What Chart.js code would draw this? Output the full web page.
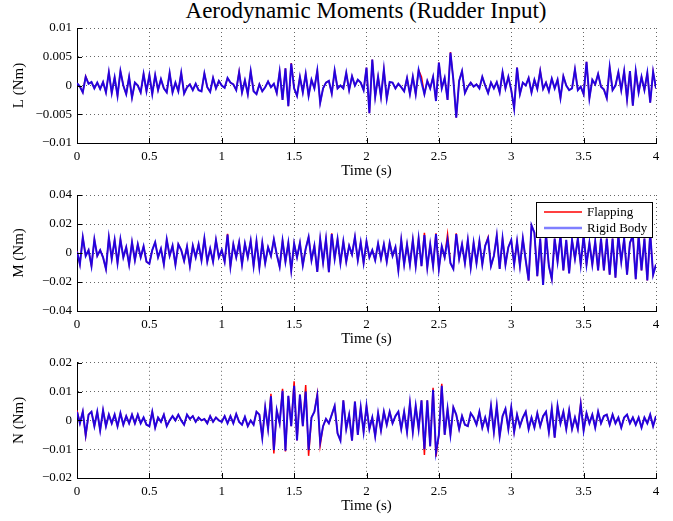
<!DOCTYPE html>
<html>
<head>
<meta charset="utf-8">
<script src="https://cdn.jsdelivr.net/npm/chart.js@4.4.1/dist/chart.umd.min.js"></script>
<style>
  html, body { margin: 0; padding: 0; background: #fff; width: 673px; height: 521px; overflow: hidden; }
  #title {
    position: absolute; left: 66px; width: 600px; top: -1px;
    text-align: center; font-family: "Liberation Serif", "Times New Roman", serif;
    font-size: 23px; line-height: 24px; color: #000;
  }
  canvas { position: absolute; left: 0; }
</style>
</head>
<body>
<div id="title">Aerodynamic Moments (Rudder Input)</div>
<canvas id="chartL" width="673" height="185" style="top:0px"></canvas>
<canvas id="chartM" width="673" height="173" style="top:180px"></canvas>
<canvas id="chartN" width="673" height="170" style="top:350px"></canvas>
<script>
// samples every 0.02 s from 0 to 4 s, values in milli-Nm
const sampleStep = 0.02;

const timeTicks = [0, 0.5, 1, 1.5, 2, 2.5, 3, 3.5, 4];
const timeTickLabels = ['0', '0.5', '1', '1.5', '2', '2.5', '3', '3.5', '4'];

const yTicksL = [-0.01, -0.005, 0, 0.005, 0.01];
const yTickLabelsL = ['\u22120.01', '\u22120.005', '0', '0.005', '0.01'];
const yTicksM = [-0.04, -0.02, 0, 0.02, 0.04];
const yTickLabelsM = ['\u22120.04', '\u22120.02', '0', '0.02', '0.04'];
const yTicksN = [-0.02, -0.01, 0, 0.01, 0.02];
const yTickLabelsN = ['\u22120.02', '\u22120.01', '0', '0.01', '0.02'];

// L moment (mNm)
const rollRigid = [
  0.4, -0.2, -1.2, 1.5, 0.3, 0.6, -0.5, 0.5, -0.6, 0.6, -1.2, 2.3, -1.3, 1.4, -1.8, 2.5, 0.0, -1.5, 1.5, -2.1, 0.5, 0.0, -1.2, 2.0, -1.0,
  1.8, -1.5, 1.8, -0.8, 1.1, -0.5, -1.2, 2.2, -1.2, 0.5, -1.0, 2.2, -1.4, -0.3, 0.2, -0.8, 0.3, -0.8, -1.0, 2.1, -0.3, -1.1, 1.3, -0.5, 0.8,
  0.0, -0.4, 1.3, 0.5, 0.2, -0.8, 2.3, -1.2, 0.9, -1.5, 2.5, -1.0, -1.5, 0.2, -1.0, -0.3, 0.7, -0.3, 0.3, -1.3, 2.4, -2.5, 3.0, -3.6, 3.8,
  -0.5, -1.8, 1.5, -1.2, 2.0, -1.8, 1.0, -0.5, 2.6, -3.0, -0.5, 0.5, 0.8, -1.4, 2.6, -0.5, 0.0, -0.5, 2.2, -0.8, 1.6, 0.0, 1.0, 0.5, -0.8,
  3.1, -4.8, 4.5, -2.0, 1.5, -2.0, 2.8, -2.3, 0.6, 0.5, -0.5, 0.3, -0.3, -1.0, 1.3, -1.5, 1.5, -1.5, 2.7, 0.5, -1.5, 0.8, -0.5, 1.5, -2.7,
  4.0, -0.5, 1.3, -2.5, 5.7, 1.0, -5.6, 0.8, 2.5, -1.3, -0.2, 0.5, -0.2, 0.2, -0.5, 1.5, 0.0, -1.3, 0.5, -0.5, 0.6, -1.2, 2.3, -0.5, 1.5,
  -0.8, -4.0, 3.1, -1.5, 0.5, 0.0, 1.3, -1.2, 1.0, -0.6, 2.5, -0.6, 0.5, -1.0, 1.2, -0.5, 1.0, -2.2, 1.6, 0.0, -0.8, -0.5, 2.8, -0.8, -0.2,
  -1.5, 4.1, -2.2, 1.0, 0.2, 2.0, -0.2, -0.7, -2.2, 3.2, -0.8, 0.0, 2.3, -0.8, 2.5, -2.4, 2.5, -3.5, 2.5, -1.2, 1.5, -0.8, 2.2, -3.0, 2.4,
  -0.5
];
const rollFlapping = [
  0.4, -0.2, -1.2, 1.6, 0.3, 0.6, -0.5, 0.5, -0.6, 0.6, -1.2, 2.3, -1.3, 1.4, -1.8, 2.5, 0.0, -1.5, 1.5, -2.1, 0.5, 0.0, -1.2, 2.0, -1.0,
  1.8, -1.5, 1.8, -0.8, 1.1, -0.5, -1.2, 2.2, -1.2, 0.5, -1.0, 2.2, -1.4, -0.3, 0.2, -0.8, 0.3, -0.8, -1.0, 2.1, -0.3, -1.1, 1.3, -0.5, 0.8,
  0.0, -0.4, 1.3, 0.5, 0.2, -0.8, 2.4, -1.2, 0.9, -1.5, 2.5, -1.0, -1.5, 0.2, -1.0, -0.3, 0.7, -0.3, 0.3, -1.3, 2.4, -2.5, 3.0, -3.6, 3.9,
  -0.5, -1.8, 1.5, -1.2, 2.0, -1.8, 1.0, -0.5, 2.6, -3.0, -0.5, 0.5, 0.8, -1.4, 2.6, -0.5, 0.0, -0.5, 2.2, -0.8, 1.6, 0.0, 1.0, 0.5, -0.8,
  3.1, -4.8, 4.5, -2.0, 1.5, -2.0, 2.8, -2.3, 0.6, 0.5, -0.5, 0.3, -0.3, -1.0, 1.3, -1.5, 1.5, -1.5, 2.7, 1.5, -1.5, 0.8, -0.5, 1.5, -2.7,
  4.0, -0.5, 1.3, -2.5, 5.8, 1.0, -5.6, 0.8, 2.5, -1.3, -0.2, 0.5, -0.2, 0.2, -0.5, 1.5, 0.0, -1.3, 0.5, -0.5, 0.6, -1.2, 2.3, -0.5, 1.5,
  -0.8, -4.0, 3.1, -1.5, 0.5, 0.0, 1.3, -1.2, 1.0, -0.6, 2.6, -0.6, 0.5, -1.0, 1.2, -0.5, 1.0, -2.2, 1.6, 0.0, -0.8, -0.5, 2.8, -0.8, -0.2,
  -1.5, 4.1, -2.2, 1.0, 0.2, 2.0, -0.2, -0.7, -2.2, 3.2, -0.8, 0.0, 2.3, -0.8, 2.5, -2.4, 2.5, -3.5, 2.5, -1.2, 1.5, -0.8, 2.2, -3.0, 2.4,
  -0.5
];

// M moment (mNm)
const pitchRigid = [
  1.0, -7.8, 10.8, -2.0, 2.0, -9.0, 9.4, -2.0, 2.0, -3.0, -11.0, 10.8, -4.0, 9.0, -7.0, 9.4, -3.0, 4.0, -8.0, 7.4, -5.0, 6.0, -3.0, 4.6, -6.0,
  -7.4, 2.0, 7.4, -3.0, 3.0, -7.8, 9.4, -2.0, 5.0, -8.0, 6.0, 2.0, -5.5, 4.4, -9.0, 5.0, -3.0, 6.0, -5.0, 10.0, -6.0, 3.0, -6.0, 9.0, -3.0,
  2.0, -6.0, 12.7, -9.4, 6.0, -3.0, 7.4, -8.0, 6.5, -3.0, 8.5, -9.0, 8.0, -10.0, 7.0, -7.0, 4.0, -2.0, 9.4, -1.0, -9.5, 8.5, -6.0, 7.0, -12.0,
  6.5, -3.0, 7.0, -8.5, 3.0, 11.0, -5.0, 5.0, -13.0, 9.6, -6.5, 9.6, -13.3, 13.0, -4.0, 9.6, -7.0, 8.0, -6.0, 5.0, -1.0, 11.0, -5.0, 7.4, -7.0,
  8.0, -3.0, 2.0, -5.0, 6.5, -4.0, 6.0, -6.0, 7.0, -2.0, 4.0, -12.0, 9.0, -8.0, 6.0, -8.0, 9.0, -9.0, 10.0, -9.0, 12.4, -10.0, 6.0, -9.0, 13.0,
  -11.0, 4.5, -3.0, 9.0, -7.0, -11.0, 13.0, -4.0, 6.0, -7.0, 9.0, -10.0, 7.0, -7.0, 8.0, -8.0, 5.0, 10.0, -9.0, -2.0, 12.0, -11.0, 10.0, -8.0, 4.0,
  9.0, -8.0, 8.0, -9.0, 10.0, -5.0, -19.0, 19.0, 14.0, -16.0, 10.0, -22.0, 13.0, -9.0, -18.0, 10.0, -6.0, 12.0, -12.0, 9.0, -14.0, 9.0, -4.0, 10.0, -8.0,
  12.0, -8.0, 7.0, -8.0, 8.0, -12.0, 10.0, -12.0, 10.0, -15.0, 10.0, -17.0, 12.0, -6.0, 10.0, -15.0, 7.0, 12.0, -18.0, 12.0, -12.0, 10.0, -19.0, 14.0, -15.0,
  -8.0
];
const pitchFlapping = [
  1.5, -7.8, 10.8, -2.0, 2.0, -9.0, 9.4, -2.0, 2.0, -3.0, -11.0, 10.8, -4.0, 9.0, -7.0, 9.4, -3.0, 4.0, -8.0, 7.4, -5.0, 6.0, -3.0, 4.6, -6.0,
  -7.4, 2.0, 7.4, -3.0, 3.0, -7.8, 9.4, -2.0, 5.0, -8.0, 6.0, 2.0, -5.5, 4.4, -9.0, 5.0, -3.0, 6.0, -5.0, 10.0, -6.0, 3.0, -6.0, 9.0, -3.0,
  2.0, -6.0, 13.2, -9.4, 6.0, -3.0, 7.4, -8.0, 6.5, -3.0, 8.5, -9.0, 8.0, -10.0, 7.0, -7.0, 4.0, -2.0, 9.4, -1.0, -9.5, 8.5, -6.0, 7.0, -12.0,
  6.5, -3.0, 7.0, -8.5, 3.0, 11.0, -5.0, 5.0, -13.0, 9.6, -6.5, 9.6, -13.3, 13.5, -4.0, 9.6, -7.0, 8.0, -6.0, 5.0, -1.0, 11.0, -5.0, 7.4, -7.0,
  8.0, -3.0, 2.0, -5.0, 6.5, -4.0, 6.0, -6.0, 7.0, -2.0, 4.0, -12.0, 9.0, -8.0, 6.0, -8.0, 9.0, -9.0, 10.0, -9.0, 14.0, -10.0, 6.0, -9.0, 13.5,
  -11.0, 4.5, -3.0, 13.0, -7.0, -11.0, 13.5, -4.0, 6.0, -7.0, 9.0, -10.0, 7.0, -7.0, 8.0, -8.0, 5.0, 10.8, -9.0, -2.0, 12.0, -11.0, 10.0, -8.0, 4.0,
  9.0, -8.0, 8.0, -9.0, 10.0, -5.0, -19.0, 19.0, 14.0, -16.0, 10.0, -22.0, 13.0, -9.0, -18.0, 10.0, -6.0, 12.0, -12.0, 9.0, -14.0, 9.0, -4.0, 10.0, -8.0,
  12.0, -8.0, 7.0, -8.0, 8.0, -12.0, 10.0, -12.0, 10.0, -15.0, 10.0, -17.0, 12.0, -6.0, 10.0, -15.0, 7.0, 12.0, -18.0, 12.0, -12.0, 10.0, -19.0, 14.0, -15.0,
  -8.0
];

// N moment (mNm)
const yawRigid = [
  3.0, -1.0, 3.0, -5.0, 2.0, 3.0, -2.0, 3.0, -3.5, 3.5, -2.0, 2.0, -1.0, 2.0, -2.0, 2.5, -1.5, 1.5, -1.0, 2.0, -1.0, 2.0, -1.0, 1.0, -1.5,
  -2.0, 3.0, -2.5, 1.0, -0.5, 2.0, -2.0, 0.0, 1.5, 0.0, 2.0, 0.0, -1.5, 2.0, 0.5, 1.5, -0.5, 1.0, 0.0, 0.5, -1.0, 1.5, -0.5, 1.0, 0.0,
  -0.5, 1.5, -1.0, 1.5, -1.0, 2.2, -0.5, -1.5, 1.2, -2.0, 0.0, -1.5, 3.0, 2.0, -6.0, 4.5, -3.0, 8.4, -10.3, 3.5, -1.0, 10.3, -10.5, 8.5, -2.0,
  12.0, -7.0, 9.0, -2.0, 10.0, -10.3, 1.0, 3.0, 8.6, -7.5, -2.0, 0.5, -1.0, 2.0, 5.0, -4.5, -7.0, 7.0, -3.0, 2.0, -7.0, 6.5, -5.0, 4.5, -4.0,
  5.0, -3.0, 1.0, -5.5, 2.5, -3.5, 3.0, -1.5, 3.0, -1.0, 1.5, 3.0, -3.0, 3.0, -4.0, 6.0, -4.0, 5.0, -3.0, 7.0, -10.0, 7.0, -9.0, 10.6, -11.0,
  -5.0, 12.0, -5.0, 4.0, -5.0, 4.5, 2.0, -3.0, 1.5, -1.5, -2.0, 2.5, 1.0, -1.5, 3.0, -2.5, 1.0, -3.0, 5.0, -4.0, 5.0, -5.5, 1.5, 4.0, -3.0,
  4.5, -4.0, 2.0, -2.0, 1.0, 3.0, -3.0, 1.0, -2.5, 2.5, -2.0, 1.5, 3.0, -4.0, 4.0, -6.0, 5.0, -1.0, 3.0, -3.0, 3.5, -3.0, 1.0, -3.0, 5.5,
  -3.5, 2.5, -1.0, 2.0, -2.5, 3.0, -1.0, 1.5, 2.0, -1.5, 2.0, -1.0, 1.0, -2.5, 1.0, 2.0, -1.0, 1.0, -1.5, 1.0, -2.5, 1.0, -1.0, 2.0, -2.0,
  1.5
];
const yawFlapping = [
  3.5, -1.0, 3.0, -5.5, 2.0, 3.0, -2.0, 3.0, -3.5, 3.5, -2.0, 2.0, -1.0, 2.0, -2.0, 2.5, -1.5, 1.5, -1.0, 2.0, -1.0, 2.0, -1.0, 1.0, -1.5,
  -2.0, 3.0, -2.5, 1.0, -0.5, 2.0, -2.0, 0.0, 1.5, 0.0, 2.0, 0.0, -1.5, 2.0, 0.5, 1.5, -0.5, 1.0, 0.0, 0.5, -1.0, 1.5, -0.5, 1.0, 0.0,
  -0.5, 1.5, -1.0, 1.5, -1.0, 2.2, -0.5, -1.5, 1.2, -2.0, 0.0, -1.5, 3.0, 2.0, -6.0, 4.5, -3.0, 9.2, -11.5, 3.5, -1.0, 11.0, -10.8, 8.5, -2.0,
  13.6, -7.0, 9.0, -2.0, 12.3, -12.3, 1.0, 3.0, 9.2, -8.7, -2.0, 0.5, -1.0, 2.0, 5.0, -4.5, -7.0, 7.0, -3.0, 2.0, -7.0, 6.5, -5.0, 4.5, -4.0,
  5.0, -3.0, 1.0, -5.5, 2.5, -3.5, 3.0, -1.5, 3.0, -1.0, 1.5, 3.0, -3.0, 3.0, -4.0, 6.0, -4.0, 5.0, -3.0, 7.0, -12.0, 7.0, -9.0, 11.3, -12.6,
  -5.0, 12.7, -5.0, 4.0, -5.0, 4.5, 2.0, -3.0, 1.5, -1.5, -2.0, 2.5, 1.0, -1.5, 3.0, -2.5, 1.0, -3.0, 5.0, -4.0, 5.0, -5.5, 1.5, 4.0, -3.0,
  4.5, -4.0, 2.0, -2.0, 1.0, 3.0, -3.0, 1.0, -2.5, 2.5, -2.0, 1.5, 3.0, -4.0, 4.0, -6.0, 5.0, -1.0, 3.0, -3.0, 3.5, -3.0, 1.0, -3.0, 6.0,
  -3.5, 2.5, -1.0, 2.0, -2.5, 3.0, -1.0, 1.5, 2.0, -1.5, 2.0, -1.0, 1.0, -2.5, 1.0, 2.0, -1.0, 1.0, -1.5, 1.0, -2.5, 1.0, -1.0, 2.0, -2.0,
  1.5
];

const SERIF = '"Liberation Serif", "Times New Roman", serif';
const FLAP_COLOR = '#ff0000';
const RIGID_COLOR = 'rgba(0, 0, 255, 0.85)';

// mNm -> Nm, sample index -> time
function toPoints(values) {
  return values.map((v, i) => ({ x: i * sampleStep, y: v / 1000 }));
}

// MATLAB style ticks pointing into the plot box
const inwardTicks = {
  id: 'inwardTicks',
  afterDraw(chart) {
    const { ctx, chartArea, scales } = chart;
    ctx.save();
    ctx.strokeStyle = '#000';
    ctx.lineWidth = 1;
    ctx.beginPath();
    scales.x.ticks.forEach(t => {
      const px = Math.round(scales.x.getPixelForValue(t.value)) + 0.5;
      ctx.moveTo(px, chartArea.bottom);
      ctx.lineTo(px, chartArea.bottom - 5);
    });
    scales.y.ticks.forEach(t => {
      const py = Math.round(scales.y.getPixelForValue(t.value)) + 0.5;
      ctx.moveTo(chartArea.left, py);
      ctx.lineTo(chartArea.left + 5, py);
    });
    ctx.stroke();
    ctx.restore();
  }
};

// boxed legend in the top right corner of the middle plot
const boxLegend = {
  id: 'boxLegend',
  afterDraw(chart) {
    const ctx = chart.ctx;
    const area = chart.chartArea;
    const w = 116, h = 35;
    const x0 = area.right - w - 4, y0 = area.top + 7;
    ctx.save();
    ctx.fillStyle = '#fff';
    ctx.fillRect(x0, y0, w, h);
    ctx.strokeStyle = '#000';
    ctx.lineWidth = 1;
    ctx.strokeRect(x0 + 0.5, y0 + 0.5, w, h);

    const entries = [
      { label: chart.data.datasets[1].label, color: FLAP_COLOR, width: 1.5 },
      { label: chart.data.datasets[0].label, color: 'rgba(0, 0, 255, 0.5)', width: 2.5 }
    ];
    ctx.font = '13px ' + SERIF;
    ctx.textBaseline = 'middle';
    entries.forEach((e, i) => {
      const y = y0 + 10 + i * 16;
      ctx.strokeStyle = e.color;
      ctx.lineWidth = e.width;
      ctx.beginPath();
      ctx.moveTo(x0 + 8, y);
      ctx.lineTo(x0 + 46, y);
      ctx.stroke();
      ctx.fillStyle = '#000';
      ctx.fillText(e.label, x0 + 51, y + 0.5);
    });
    ctx.restore();
  }
};

function makePanel(canvasId, padTop, rigid, flapping, yMin, yMax, yTicks, yLabels, yTitle, extraPlugins) {
  const ctx = document.getElementById(canvasId).getContext('2d');
  return new Chart(ctx, {
    type: 'line',
    data: {
      datasets: [
        {
          label: 'Rigid Body',
          data: toPoints(rigid),
          borderColor: RIGID_COLOR,
          borderWidth: 2,
          pointRadius: 0,
          tension: 0,
          order: 0
        },
        {
          label: 'Flapping',
          data: toPoints(flapping),
          borderColor: FLAP_COLOR,
          borderWidth: 1.5,
          pointRadius: 0,
          tension: 0,
          order: 1
        }
      ]
    },
    options: {
      responsive: false,
      animation: false,
      devicePixelRatio: 1,
      layout: { padding: { top: padTop, right: 17, left: 0, bottom: 0 } },
      plugins: {
        legend: { display: false },
        tooltip: { enabled: false }
      },
      scales: {
        x: {
          type: 'linear',
          min: 0,
          max: 4,
          afterBuildTicks: s => { s.ticks = timeTicks.map(v => ({ value: v })); },
          afterFit: s => { s.height = 42; },
          ticks: {
            padding: 6,
            color: '#000',
            maxRotation: 0,
            autoSkip: false,
            font: { family: SERIF, size: 13 },
            callback: (v, i) => timeTickLabels[i]
          },
          grid: { color: 'rgba(0, 0, 0, 0.6)', lineWidth: 1, drawTicks: false },
          border: { display: true, color: '#000', width: 1, dash: [1, 3] },
          title: {
            display: true,
            text: 'Time (s)',
            color: '#000',
            font: { family: SERIF, size: 15 },
            padding: { top: 0, bottom: 5 }
          }
        },
        y: {
          type: 'linear',
          min: yMin,
          max: yMax,
          afterBuildTicks: s => { s.ticks = yTicks.map(v => ({ value: v })); },
          afterFit: s => { s.width = 77; },
          ticks: {
            padding: 5,
            color: '#000',
            autoSkip: false,
            font: { family: SERIF, size: 13 },
            callback: (v, i) => yLabels[i]
          },
          grid: { color: 'rgba(0, 0, 0, 0.6)', lineWidth: 1, drawTicks: false },
          border: { display: true, color: '#000', width: 1, dash: [1, 3] },
          title: {
            display: true,
            text: yTitle,
            color: '#000',
            font: { family: SERIF, size: 15 },
            padding: { top: 10, bottom: 0 }
          }
        }
      }
    },
    plugins: [inwardTicks].concat(extraPlugins || [])
  });
}

makePanel('chartL', 28, rollRigid, rollFlapping, -0.01, 0.01, yTicksL, yTickLabelsL, 'L (Nm)');
makePanel('chartM', 15, pitchRigid, pitchFlapping, -0.04, 0.04, yTicksM, yTickLabelsM, 'M (Nm)', [boxLegend]);
makePanel('chartN', 12, yawRigid, yawFlapping, -0.02, 0.02, yTicksN, yTickLabelsN, 'N (Nm)');
</script>
</body>
</html>
